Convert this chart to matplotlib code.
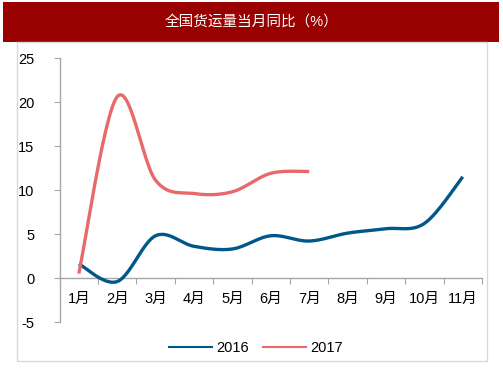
import numpy as np
import matplotlib
matplotlib.use("Agg")
import matplotlib.pyplot as plt
from matplotlib.patches import Rectangle
from matplotlib.lines import Line2D

plt.rcParams['font.family'] = ['Liberation Sans', 'Noto Sans CJK SC', 'DejaVu Sans']

months = ['1月', '2月', '3月', '4月', '5月', '6月', '7月', '8月', '9月', '10月', '11月']
s2016 = [1.6, -0.4, 4.8, 3.6, 3.3, 4.8, 4.2, 5.1, 5.6, 6.2, 11.5]
s2017 = [0.5, 20.6, 11.1, 9.6, 9.8, 11.9, 12.1]
yticks = [-5, 0, 5, 10, 15, 20, 25]
title = '全国货运量当月同比（%）'

c2016 = '#00578A'
c2017 = '#E8696B'


def smooth(xs, ys, n=30):
    """Excel-like smooth curve (Bezier with Catmull-Rom control points)."""
    xs = np.asarray(xs, float)
    ys = np.asarray(ys, float)
    px, py = [], []
    m = len(xs)
    for i in range(m - 1):
        x0, y0 = (xs[i - 1], ys[i - 1]) if i > 0 else (xs[i], ys[i])
        x1, y1 = xs[i], ys[i]
        x2, y2 = xs[i + 1], ys[i + 1]
        x3, y3 = (xs[i + 2], ys[i + 2]) if i + 2 < m else (xs[i + 1], ys[i + 1])
        c1x, c1y = x1 + (x2 - x0) / 6, y1 + (y2 - y0) / 6
        c2x, c2y = x2 - (x3 - x1) / 6, y2 - (y3 - y1) / 6
        t = np.linspace(0, 1, n)
        bx = (1 - t) ** 3 * x1 + 3 * (1 - t) ** 2 * t * c1x + 3 * (1 - t) * t ** 2 * c2x + t ** 3 * x2
        by = (1 - t) ** 3 * y1 + 3 * (1 - t) ** 2 * t * c1y + 3 * (1 - t) * t ** 2 * c2y + t ** 3 * y2
        px.extend(bx)
        py.extend(by)
    return np.array(px), np.array(py)


fig = plt.figure(figsize=(5.03, 3.78), dpi=100)
W, H = 503, 378

# title bar
fig.patches.append(Rectangle((3 / W, 1 - 42 / H), 496 / W, 40 / H, transform=fig.transFigure,
                             facecolor='#990000', edgecolor='none', zorder=0))
fig.text(251 / W, 1 - 22 / H, title, color='white', fontsize=10.5, ha='center', va='center')
# frame
fig.patches.append(Rectangle((17 / W, 1 - 361 / H), 470 / W, 319 / H, transform=fig.transFigure,
                             facecolor='none', edgecolor='#D9D9D9', linewidth=1.0, zorder=0))

left, right = 59.6 / W, 482 / W
bottom, top = 1 - 322 / H, 1 - 58 / H
ax = fig.add_axes([left, bottom, right - left, top - bottom])
ax.set_xlim(-0.5, len(months) - 0.5)
ax.set_ylim(-5, 25)

x16 = np.arange(len(s2016))
x17 = np.arange(len(s2017))
sx, sy = smooth(x16, s2016)
ax.plot(sx, sy, color=c2016, lw=2.4, solid_capstyle='butt', zorder=3)
sx, sy = smooth(x17, s2017)
ax.plot(sx, sy, color=c2017, lw=2.4, solid_capstyle='butt', zorder=3)

for s in ['top', 'right']:
    ax.spines[s].set_visible(False)
ax.spines['left'].set_color('#A6A6A6')
ax.spines['bottom'].set_color('#A6A6A6')
ax.spines['bottom'].set_position(('data', 0))
ax.spines['left'].set_linewidth(1.0)
ax.spines['bottom'].set_linewidth(1.0)

ax.set_yticks(yticks)
ax.set_yticklabels([str(v) for v in yticks])
ax.tick_params(axis='y', direction='out', length=4, color='#A6A6A6', labelsize=10.5, pad=14, labelcolor='#000000')

ax.set_xticks(np.arange(len(months) + 1) - 0.5)
ax.set_xticklabels([])
ax.tick_params(axis='x', direction='out', length=4, color='#A6A6A6')
for i, m in enumerate(months):
    ax.text(i, -2.4, m, ha='center', va='center', fontsize=10.5, color='#000000')

# legend
handles = [Line2D([], [], color=c2016, lw=1.5), Line2D([], [], color=c2017, lw=1.5)]
fig.legend(handles, ['2016', '2017'], loc='center', bbox_to_anchor=(256 / W, 1 - 348 / H),
           ncol=2, frameon=False, fontsize=10.5, handlelength=2.9, handletextpad=0.3,
           columnspacing=1.0)

fig.savefig('out.png', dpi=100)
